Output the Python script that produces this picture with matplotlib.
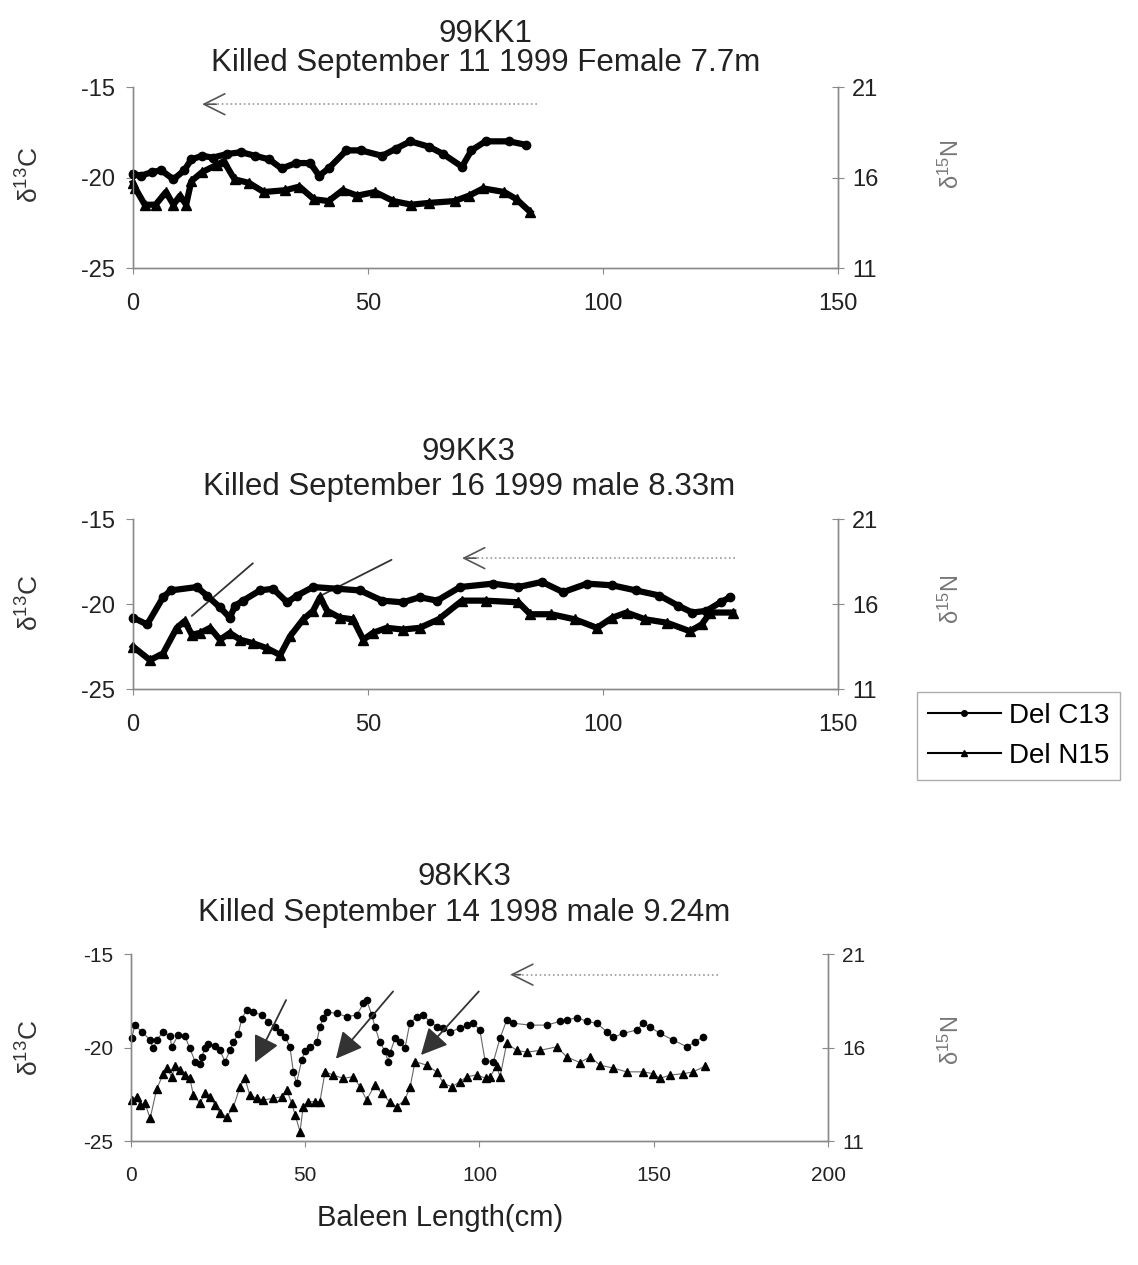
import matplotlib
matplotlib.use('Agg')
import matplotlib.pyplot as plt
from matplotlib.lines import Line2D

plt.rcParams['font.family'] = ['Liberation Sans', 'DejaVu Sans']
plt.rcParams['mathtext.default'] = 'regular'
plt.rcParams['axes.unicode_minus'] = False

# ---- 99KK1 ----
kk1_c_x = [0, 1.7, 4, 6, 8.6, 10.9, 12.4, 14.7, 17, 20, 23, 26, 29, 31.6, 34.7, 37.7, 39.6, 41.6,
           45.4, 48.5, 53, 56, 59, 63, 66, 70, 72, 75, 80, 83.7]
kk1_c13 = [-19.8, -19.9, -19.7, -19.6, -20.1, -19.6, -19.0, -18.8, -18.9, -18.7, -18.6, -18.8, -19.0,
           -19.5, -19.2, -19.2, -19.9, -19.5, -18.5, -18.5, -18.8, -18.4, -18.0, -18.3, -18.7, -19.4,
           -18.5, -18.0, -18.0, -18.2]
kk1_n_x = [0, 0.5, 2.5, 4.8, 7, 8.6, 10, 11.3, 12.4, 14.7, 17.8, 19.3, 21.6, 24.7, 27.8, 32.4, 35.4,
           38.5, 41.6, 44.6, 47.7, 51.5, 55.4, 59.2, 63, 68.4, 71.5, 74.5, 79, 81.6, 84.5]
kk1_n15 = [15.7, 15.4, 14.5, 14.5, 15.2, 14.5, 15.0, 14.5, 15.8, 16.3, 16.7, 16.9, 15.9, 15.7, 15.2,
           15.3, 15.5, 14.8, 14.7, 15.3, 15.0, 15.2, 14.7, 14.5, 14.6, 14.7, 15.0, 15.4, 15.2, 14.8, 14.1]

# ---- 99KK3 ----
kk3_c_x = [0, 3, 6.4, 8, 13.6, 15.7, 18.5, 20.6, 21.7, 23.4, 27, 29.8, 32.8, 34.9, 38.3, 43.4, 48.3,
           53, 57.4, 61, 64.7, 69.6, 76.6, 82, 87, 91.5, 96.6, 102, 107, 112, 116, 119, 122, 125, 127]
kk3_c13 = [-20.8, -21.2, -19.6, -19.2, -19.0, -19.5, -20.2, -20.8, -20.1, -19.8, -19.2, -19.1, -19.9,
           -19.5, -19.0, -19.1, -19.2, -19.8, -19.9, -19.6, -19.8, -19.0, -18.8, -19.0, -18.7, -19.3,
           -18.8, -18.9, -19.2, -19.5, -20.1, -20.5, -20.4, -19.9, -19.6]
kk3_n_x = [0, 3.6, 6.4, 9.3, 11, 12.5, 14.3, 16.4, 18.5, 20.6, 22.8, 25.5, 28.5, 31.3, 33.4, 36.2,
           38.3, 39.8, 41.3, 44, 46.8, 49, 51, 54, 57.4, 61, 65, 70, 75, 82, 84.5, 89, 94, 98.7, 102,
           105, 109, 113.6, 118.5, 121, 122.8, 127.7]
kk3_n15 = [13.5, 12.7, 13.1, 14.6, 15.0, 14.2, 14.3, 14.6, 13.9, 14.3, 13.9, 13.7, 13.4, 13.0, 14.1,
           15.1, 15.6, 16.4, 15.6, 15.2, 15.1, 13.9, 14.3, 14.6, 14.5, 14.6, 15.1, 16.2, 16.2, 16.1,
           15.4, 15.4, 15.1, 14.6, 15.2, 15.5, 15.1, 14.9, 14.4, 14.8, 15.5, 15.5]

# ---- 98KK3 ----
k98_c_x = [0.2, 1.1, 3.1, 5.5, 6.4, 7.4, 9.3, 11.2, 11.7, 13.6, 15.5, 16.9, 18.4, 19.8, 20.3, 21.2,
           22.2, 24.1, 25.5, 27.0, 28.4, 29.4, 30.8, 31.8, 33.2, 35.1, 37.5, 39.4, 41.3, 42.8, 44.2,
           45.6, 46.6, 47.5, 49.0, 49.9, 51.4, 53.3, 54.2, 55.2, 56.2, 59.0, 61.9, 64.8, 66.7, 67.6,
           69.1, 70.0, 71.4, 72.9, 73.8, 74.3, 75.8, 77.2, 78.6, 80.0, 82.0, 83.9, 85.8, 87.7, 89.6,
           91.5, 94.4, 96.3, 98.2, 100.1, 101.6, 104.0, 105.9, 107.8, 109.7, 114.5, 119.3, 123.1,
           125.0, 127.9, 130.8, 133.6, 136.5, 138.4, 141.3, 145.1, 147.0, 148.9, 151.8, 155.6,
           159.5, 161.8, 164.2]
k98_c13 = [-19.5, -18.8, -19.15, -19.6, -20.05, -19.6, -19.15, -19.4, -19.96, -19.33, -19.4, -20.05,
           -20.75, -20.9, -20.5, -20.05, -19.8, -19.9, -20.15, -20.75, -20.15, -19.7, -19.25, -18.45,
           -18.0, -18.1, -18.26, -18.62, -18.88, -19.15, -19.42, -19.96, -21.3, -21.9, -20.67, -20.2,
           -19.96, -19.7, -18.9, -18.4, -18.1, -18.17, -18.35, -18.26, -17.64, -17.46, -18.26, -18.88,
           -19.7, -20.2, -20.75, -20.3, -19.5, -19.7, -20.05, -18.7, -18.35, -18.26, -18.62, -18.88,
           -18.98, -19.15, -18.98, -18.8, -18.7, -19.06, -20.7, -20.75, -19.5, -18.53, -18.7, -18.8,
           -18.8, -18.6, -18.53, -18.4, -18.6, -18.7, -19.15, -19.45, -19.24, -19.06, -18.7, -18.9,
           -19.24, -19.6, -19.96, -19.7, -19.42]
k98_n_x = [0.2, 1.6, 2.6, 4.0, 5.5, 7.4, 9.3, 10.2, 11.7, 12.6, 14.1, 15.5, 16.9, 17.9, 19.8, 21.2,
           22.7, 24.1, 25.5, 27.5, 29.4, 31.3, 32.7, 34.1, 36.1, 38.0, 40.8, 43.2, 44.7, 46.1, 47.1,
           48.5, 49.4, 50.9, 52.8, 54.2, 55.7, 58.1, 60.9, 63.8, 65.7, 67.6, 70.0, 71.9, 74.3, 76.2,
           78.6, 80.1, 81.5, 84.8, 87.7, 89.6, 92.0, 94.4, 96.3, 99.2, 102.0, 103.0, 104.9, 105.9,
           107.8, 110.7, 113.5, 117.4, 122.2, 125.0, 128.8, 131.7, 134.6, 138.4, 142.2, 147.0, 149.9,
           151.8, 154.7, 158.5, 161.3, 164.7]
k98_n15 = [13.2, 13.37, 12.93, 13.02, 12.21, 13.8, 14.6, 14.9, 14.44, 15.0, 14.8, 14.53, 14.35, 13.46,
           13.02, 13.55, 13.37, 12.93, 12.5, 12.3, 12.83, 13.9, 14.35, 13.46, 13.28, 13.2, 13.28,
           13.37, 13.73, 13.02, 12.4, 11.5, 12.83, 13.1, 13.1, 13.1, 14.7, 14.53, 14.35, 14.44, 13.9,
           13.2, 14.0, 13.55, 13.1, 12.83, 13.2, 13.9, 15.25, 15.06, 14.7, 14.1, 13.9, 14.17, 14.44,
           14.53, 14.35, 14.44, 15.0, 14.44, 16.22, 15.85, 15.75, 15.85, 16.04, 15.5, 15.2, 15.5,
           15.06, 14.9, 14.7, 14.7, 14.6, 14.35, 14.53, 14.6, 14.7, 15.0]

titles = ['99KK1', '99KK3', '98KK3']
subtitles = ['Killed September 11 1999 Female 7.7m',
             'Killed September 16 1999 male 8.33m',
             'Killed September 14 1998 male 9.24m']

AXCOL = '#8a8a8a'

fig = plt.figure(figsize=(11.38, 12.65), dpi=100)


def make_panel(rect, xmax, xticks, cx, cy, nx, ny, tick_fs, heavy):
    ax = fig.add_axes(rect)
    if heavy:
        ax.plot(cx, cy, color='black', lw=4.5, marker='o', ms=6, zorder=3, clip_on=False)
    else:
        ax.plot(cx, cy, color='#666666', lw=0.8, marker='o', ms=4.5, mfc='black', mec='black',
                zorder=3, clip_on=False)
    ax.set_xlim(0, xmax)
    ax.set_ylim(-25, -15)
    ax.set_xticks(xticks)
    ax.set_yticks([-25, -20, -15])
    ax.patch.set_alpha(0)
    ax2 = ax.twinx()
    if heavy:
        ax2.plot(nx, ny, color='black', lw=4.5, marker='^', ms=7, clip_on=False)
    else:
        ax2.plot(nx, ny, color='#666666', lw=0.8, marker='^', ms=5.5, mfc='black', mec='black',
                 clip_on=False)
    ax2.set_ylim(11, 21)
    ax2.set_yticks([11, 16, 21])
    for a in (ax, ax2):
        a.spines['top'].set_visible(False)
        for s in ('left', 'right', 'bottom'):
            a.spines[s].set_color(AXCOL)
            a.spines[s].set_linewidth(1.0)
    ax.tick_params(axis='y', direction='out', length=5, color=AXCOL, labelsize=tick_fs,
                   labelcolor='#222222', pad=8)
    ax.tick_params(axis='x', direction='out', length=4, color=AXCOL, labelsize=tick_fs,
                   labelcolor='#222222', pad=14)
    ax2.tick_params(axis='y', direction='inout', length=8, color=AXCOL, labelsize=tick_fs,
                    labelcolor='#222222', pad=6)
    return ax, ax2


def dotted_arrow(ax, x0, x1, y):
    ax.plot([x0, x1], [y, y], color='#999999', lw=1.2, ls=':', zorder=2)
    ax.annotate('', xy=(x1, y), xytext=(x1 + 3, y),
                arrowprops=dict(arrowstyle='->,head_length=0.6,head_width=0.3', color='#555555',
                                lw=1.2, mutation_scale=25, shrinkA=0, shrinkB=0))


def solid_arrow(ax, tail, tip, z, style):
    ax.annotate('', xy=tip, xytext=tail, zorder=z,
                arrowprops=dict(arrowstyle=style, color='#333333',
                                lw=1.3, mutation_scale=18, shrinkA=0, shrinkB=0))


ax1, ax1b = make_panel([0.1169, 0.7881, 0.6195, 0.1431], 150, [0, 50, 100, 150],
                       kk1_c_x, kk1_c13, kk1_n_x, kk1_n15, 17, True)
dotted_arrow(ax1, 86, 14.7, -15.95)

ax2, ax2b = make_panel([0.1169, 0.4553, 0.6195, 0.1344], 150, [0, 50, 100, 150],
                       kk3_c_x, kk3_c13, kk3_n_x, kk3_n15, 17, True)
dotted_arrow(ax2, 128, 70, -17.3)
solid_arrow(ax2, (25.5, -17.6), (12.5, -20.7), 1, '-')
solid_arrow(ax2, (55, -17.4), (40, -19.5), 1, '-')

ax3, ax3b = make_panel([0.1151, 0.0980, 0.6125, 0.1478], 200, [0, 50, 100, 150, 200],
                       k98_c_x, k98_c13, k98_n_x, k98_n15, 15, False)
dotted_arrow(ax3, 168.4, 108.8, -16.1)
head = '-|>,head_length=0.9,head_width=0.45'
solid_arrow(ax3, (44.5, -17.46), (35.6, -20.8), 5, head)
solid_arrow(ax3, (75.2, -17.0), (58.8, -20.6), 5, head)
solid_arrow(ax3, (99.8, -17.0), (83.2, -20.4), 5, head)

# titles
title_x = [0.427, 0.412, 0.408]
title_y = [(0.973, 0.950), (0.643, 0.615), (0.307, 0.278)]
for t, s, x, (y1, y2) in zip(titles, subtitles, title_x, title_y):
    fig.text(x, y1, t, ha='center', va='center', fontsize=22.5, color='#222222')
    fig.text(x, y2, s, ha='center', va='center', fontsize=22.5, color='#222222')

# axis labels
for yc, yn in [(0.862, 0.870), (0.523, 0.526), (0.172, 0.178)]:
    fig.text(0.026, yc, 'δ$^{13}$C', rotation=90, ha='center', va='center', fontsize=19,
             color='#333333')
    fig.text(0.836, yn, 'δ$^{15}$N', rotation=90, ha='center', va='center', fontsize=17,
             color='#777777')

fig.text(0.387, 0.037, 'Baleen Length(cm)', ha='center', va='center', fontsize=21, color='#222222')

handles = [Line2D([], [], color='black', lw=1.5, marker='o', ms=4),
           Line2D([], [], color='black', lw=1.5, marker='^', ms=5)]
leg = fig.legend(handles, ['Del C13', 'Del N15'], loc='upper left',
                 bbox_to_anchor=(0.806, 0.453), borderaxespad=0, fontsize=20, frameon=True,
                 fancybox=False, handlelength=2.6, handletextpad=0.3, borderpad=0.4,
                 labelspacing=0.5, edgecolor='#999999')
leg.get_frame().set_linewidth(1.0)

fig.savefig('out.png', dpi=100, facecolor='white')
